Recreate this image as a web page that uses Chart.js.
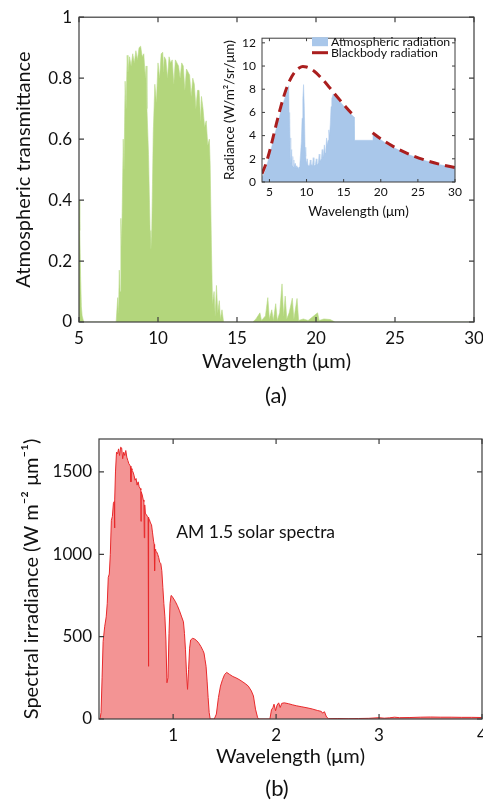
<!DOCTYPE html>
<html>
<head>
<meta charset="utf-8">
<title>Atmospheric window and AM 1.5 solar spectrum</title>
<script src="https://cdn.jsdelivr.net/npm/chart.js@4.4.1/dist/chart.umd.min.js"></script>
<style>
  html, body { margin:0; padding:0; background:#fff; overflow:hidden; }
  body { width:483px; height:806px; position:relative; font-family: Lato, 'Open Sans', sans-serif; }
  canvas { position:absolute; }
  #transChart { left:0; top:0; }
  #insetChart { left:222px; top:25px; }
  #solarChart { left:0; top:420px; }
  .panel-tag { position:absolute; width:60px; text-align:center; font-size:22px; line-height:26px; color:#111; }
</style>
</head>
<body>
<canvas id="transChart" width="500" height="382"></canvas>
<canvas id="insetChart" width="245" height="200"></canvas>
<div class="panel-tag" style="left:246px; top:382px;">(a)</div>
<canvas id="solarChart" width="500" height="355"></canvas>
<div class="panel-tag" style="left:247px; top:775px;">(b)</div>
<script>
// ---- (a) atmospheric transmittance, 5-30 um ----
const TRANS_WL = [
  5.0, 5.05, 5.1, 5.15, 5.2, 5.3, 7.35, 7.45, 7.5, 7.55, 7.6, 7.65, 7.7, 7.8, 7.85, 7.92, 7.98,
  8.05, 8.1, 8.2, 8.3, 8.4, 8.5, 8.6, 8.7, 8.8, 8.9, 9.0, 9.1, 9.2, 9.25, 9.3, 9.4, 9.45, 9.5,
  9.55, 9.6, 9.65, 9.7, 9.8, 9.9, 10.0, 10.1, 10.2, 10.3, 10.35, 10.4, 10.5, 10.6, 10.7, 10.8,
  10.9, 11.0, 11.1, 11.2, 11.3, 11.4, 11.5, 11.6, 11.7, 11.8, 11.9, 12.0, 12.1, 12.2, 12.3,
  12.4, 12.5, 12.6, 12.7, 12.75, 12.85, 12.95, 13.05, 13.15, 13.25, 13.3, 13.38, 13.45, 13.55,
  13.62, 13.7, 13.78, 13.88, 13.95, 14.05, 14.15, 16.0, 16.2, 16.45, 16.55, 16.8, 16.95, 17.05,
  17.2, 17.3, 17.45, 17.55, 17.7, 17.85, 17.95, 18.05, 18.15, 18.3, 18.5, 18.6, 18.8, 18.9,
  19.2, 19.5, 20.1, 20.2, 20.5, 20.9, 21.2, 30.0
];
const TRANS_VAL = [
  0.40, 0.30, 0.15, 0.05, 0.02, 0, 0, 0.08, 0.03, 0.17, 0.10, 0.34, 0.25, 0.60, 0.50, 0.79, 0.70,
  0.875, 0.82, 0.87, 0.84, 0.88, 0.85, 0.89, 0.86, 0.90, 0.905, 0.87, 0.88, 0.80, 0.84, 0.70, 0.55, 0.42, 0.30,
  0.24, 0.28, 0.45, 0.62, 0.78, 0.72, 0.85, 0.80, 0.88, 0.885, 0.82, 0.87, 0.86, 0.80, 0.87, 0.85,
  0.86, 0.78, 0.86, 0.85, 0.84, 0.80, 0.85, 0.84, 0.76, 0.83, 0.82, 0.81, 0.74, 0.80, 0.78,
  0.70, 0.76, 0.76, 0.66, 0.74, 0.70, 0.64, 0.66, 0.58, 0.60, 0.52, 0.25, 0.06, 0.10,
  0.02, 0.12, 0.03, 0.07, 0.01, 0.04, 0, 0, 0.01, 0.03, 0.005, 0.02, 0.08, 0.01,
  0.04, 0.005, 0.06, 0.005, 0.03, 0.125, 0.02, 0.085, 0.01, 0.03, 0.078, 0.01, 0.077, 0.005,
  0.01, 0.005, 0.03, 0.005, 0.01, 0.008, 0, 0
];
const TRANS_X_TICKS = [5, 10, 15, 20, 25, 30];
const TRANS_Y_TICKS = [0, 0.2, 0.4, 0.6, 0.8, 1];

// ---- inset: atmospheric vs blackbody radiance ----
const RAD_WL = [
  4.0, 4.2, 4.4, 4.6, 4.8, 5.0, 5.3, 5.6, 6.0, 6.5, 7.0, 7.5, 7.6, 7.65, 7.7, 7.75, 7.8, 7.85, 7.9,
  8.0, 8.05, 8.15, 8.2, 8.3, 8.35, 8.45, 8.5, 8.6, 8.7, 8.8, 8.9, 9.0, 9.1, 9.2, 9.3, 9.4, 9.5,
  9.6, 9.7, 9.8, 9.9, 10.0, 10.1, 10.2, 10.3, 10.4, 10.5, 10.6, 10.7, 10.8, 10.9, 11.0, 11.1,
  11.2, 11.3, 11.4, 11.5, 11.6, 11.7, 11.8, 11.9, 12.0, 12.1, 12.2, 12.3, 12.4, 12.5, 12.6,
  12.7, 12.8, 12.9, 13.0, 13.1, 13.2, 13.3, 13.4, 13.5, 13.6, 14.0, 14.5, 15.0, 15.5, 16.0,
  16.4, 16.45, 18.9, 18.95, 19.5, 20, 21, 22, 23, 24, 25, 26, 27, 28, 29, 30
];
const RAD_VAL = [
  0.45, 0.6, 0.9, 1.3, 1.8, 2.3, 3.0, 3.8, 4.8, 6.0, 7.1, 8.0, 8.3, 6.0, 3.5, 5.5, 2.2, 3.8, 1.6,
  2.8, 1.4, 2.2, 1.3, 1.9, 1.25, 1.6, 1.2, 1.4, 1.2, 1.3, 1.15, 1.3, 1.6, 2.5, 3.5, 5.5, 7.2,
  8.4, 6.5, 3.0, 2.2, 1.6, 2.0, 1.4, 1.45, 1.4, 1.9, 1.4, 1.5, 1.4, 2.1, 1.5, 1.4,
  1.5, 2.0, 1.6, 1.5, 1.7, 2.4, 1.8, 1.9, 2.0, 2.8, 2.1, 2.4, 3.2, 2.5, 2.8,
  3.8, 3.2, 3.6, 4.5, 4.0, 5.0, 6.5, 7.2, 7.4, 7.6, 7.3, 6.95, 6.55, 6.2, 5.85,
  5.6, 3.6, 3.6, 4.15, 3.85, 3.65, 3.2, 2.88, 2.58, 2.3, 2.06, 1.84, 1.66, 1.49, 1.35, 1.22
];
// blackbody at ~300 K; the dashed curve is broken between 16.4 and 18.9 um
const BB_WL = [4, 4.5, 5, 5.5, 6, 6.5, 7, 7.5, 8, 8.5, 9, 9.5, 10, 11, 12, 13, 14, 15, 16, 16.4,
  17.5, 18.9, 19, 20, 22, 24, 26, 28, 30];
const BB_VAL = [0.72, 1.52, 2.60, 3.87, 5.18, 6.42, 7.51, 8.40, 9.08, 9.55, 9.83, 9.95, 9.92, 9.57,
  8.96, 8.22, 7.44, 6.69, 5.97, 5.71, null, 4.24, 4.19, 3.72, 2.95, 2.35, 1.88, 1.52, 1.24];
const INSET_X_TICKS = [5, 10, 15, 20, 25, 30];
const INSET_Y_TICKS = [0, 2, 4, 6, 8, 10, 12];

// ---- (b) AM 1.5 solar spectral irradiance ----
const SOLAR_WL = [
  0.28, 0.29, 0.30, 0.31, 0.32, 0.335, 0.35, 0.36, 0.37, 0.38, 0.39, 0.40,
  0.41, 0.42, 0.428, 0.431, 0.434, 0.44, 0.45, 0.46, 0.47, 0.48, 0.49, 0.50,
  0.51, 0.52, 0.53, 0.54, 0.55, 0.56, 0.57, 0.58, 0.585, 0.59, 0.595, 0.60,
  0.61, 0.62, 0.63, 0.64, 0.65, 0.66, 0.67, 0.68, 0.686, 0.688, 0.69, 0.70,
  0.71, 0.716, 0.72, 0.724, 0.73, 0.74, 0.75, 0.757, 0.760, 0.763, 0.77, 0.78,
  0.79, 0.80, 0.81, 0.816, 0.82, 0.824, 0.83, 0.84, 0.85, 0.86, 0.87, 0.88,
  0.89, 0.90, 0.91, 0.92, 0.93, 0.94, 0.95, 0.96, 0.97, 0.98, 0.99, 1.00,
  1.02, 1.04, 1.06, 1.08, 1.10, 1.11, 1.12, 1.13, 1.14, 1.15, 1.16, 1.17,
  1.19, 1.21, 1.23, 1.25, 1.27, 1.29, 1.30, 1.31, 1.32, 1.33, 1.34, 1.35,
  1.36, 1.40, 1.42, 1.44, 1.46, 1.48, 1.50, 1.52, 1.55, 1.58, 1.61, 1.64,
  1.67, 1.70, 1.73, 1.76, 1.78, 1.80, 1.82, 1.83, 1.94, 1.955, 1.97, 1.98,
  1.995, 2.01, 2.025, 2.04, 2.055, 2.08, 2.12, 2.16, 2.20, 2.25, 2.30, 2.35,
  2.40, 2.44, 2.45, 2.47, 2.49, 2.51, 2.6, 2.7, 2.8, 2.9, 3.0, 3.05,
  3.1, 3.15, 3.2, 3.3, 3.4, 3.5, 3.6, 3.7, 3.8, 3.9, 4.0
];
const SOLAR_VAL = [
  0, 0, 40, 250, 470, 560, 620, 700, 860, 880, 1000, 1206,
  1230, 1310, 1320, 1160, 1330, 1500, 1620, 1610, 1640, 1600, 1650, 1646,
  1580, 1620, 1600, 1630, 1590, 1570, 1550, 1540, 1535, 1440, 1520, 1510,
  1500, 1480, 1450, 1460, 1420, 1440, 1410, 1400, 1390, 1200, 1380, 1360,
  1330, 1320, 1100, 1300, 1250, 1240, 1230, 1225, 320, 1220, 1210, 1190,
  1180, 1130, 1080, 1060, 900, 1030, 1020, 1015, 1000, 980, 950, 945,
  900, 800, 700, 620, 480, 220, 250, 520, 700, 750, 745, 735,
  715, 690, 660, 625, 590, 520, 420, 280, 180, 300, 430, 480,
  490, 485, 475, 460, 440, 415, 400, 360, 320, 230, 130, 40,
  0, 0, 30, 130, 200, 240, 270, 283, 270, 258, 250, 240,
  228, 215, 200, 170, 140, 60, 10, 0, 0, 55, 70, 90,
  50, 85, 98, 70, 95, 98, 93, 86, 80, 74, 68, 61,
  52, 46, 36, 44, 12, 2, 3, 2, 3, 4, 8, 5,
  7, 11, 8, 9, 11, 12, 11, 11, 10, 10, 9
];
const SOLAR_X_TICKS = [1, 2, 3, 4];
const SOLAR_Y_TICKS = [0, 500, 1000, 1500];

const FONT = 'Lato, "Open Sans", sans-serif';
const INK = '#111';
Chart.defaults.font.family = FONT;
Chart.defaults.color = INK;

const pts = (xs, ys) => xs.map((x, i) => ({ x, y: ys[i] }));

// closed box with inward tick marks on all four sides
const boxTicks = {
  id: 'boxTicks',
  afterDatasetsDraw(chart, args, opts) {
    const { ctx, chartArea: a, scales: { x, y } } = chart;
    ctx.save();
    ctx.strokeStyle = opts.color;
    ctx.lineWidth = opts.width;
    ctx.beginPath();
    x.ticks.forEach(t => {
      const px = x.getPixelForValue(t.value);
      ctx.moveTo(px, a.bottom); ctx.lineTo(px, a.bottom - opts.len);
      ctx.moveTo(px, a.top); ctx.lineTo(px, a.top + opts.len);
    });
    y.ticks.forEach(t => {
      const py = y.getPixelForValue(t.value);
      ctx.moveTo(a.left, py); ctx.lineTo(a.left + opts.len, py);
      ctx.moveTo(a.right, py); ctx.lineTo(a.right - opts.len, py);
    });
    ctx.stroke();
    ctx.strokeRect(a.left, a.top, a.right - a.left, a.bottom - a.top);
    ctx.restore();
  }
};

// legend drawn inside the inset's plot box
const insetLegend = {
  id: 'insetLegend',
  afterDraw(chart, args, opts) {
    const { ctx } = chart;
    ctx.save();
    ctx.font = opts.font;
    ctx.textBaseline = 'middle';
    chart.data.datasets.forEach((ds, i) => {
      const yy = opts.y + i * opts.rowGap;
      if (ds.fill) {
        ctx.fillStyle = ds.backgroundColor;
        ctx.fillRect(opts.x, yy - 4.5, opts.swatch, 9);
      } else {
        ctx.strokeStyle = ds.borderColor;
        ctx.lineWidth = 3;
        ctx.beginPath();
        ctx.moveTo(opts.x, yy); ctx.lineTo(opts.x + opts.swatch, yy);
        ctx.stroke();
      }
      ctx.fillStyle = INK;
      ctx.fillText(ds.label, opts.x + opts.swatch + 3, yy);
    });
    ctx.restore();
  }
};

// free text placed at a data position
const textNote = {
  id: 'textNote',
  afterDatasetsDraw(chart, args, opts) {
    const { ctx, scales: { x, y } } = chart;
    ctx.save();
    ctx.font = opts.font;
    ctx.fillStyle = INK;
    ctx.textBaseline = 'middle';
    ctx.fillText(opts.text, x.getPixelForValue(opts.x), y.getPixelForValue(opts.y));
    ctx.restore();
  }
};

function linearAxis(o) {
  return {
    type: 'linear',
    min: o.min, max: o.max,
    afterBuildTicks: s => { s.ticks = o.ticks.map(v => ({ value: v })); },
    afterFit: s => { if (o.width) s.width = o.width; if (o.height) s.height = o.height; },
    grid: { display: false, drawTicks: false },
    border: { display: false },
    ticks: { font: { size: o.tickSize }, padding: o.tickPad, maxRotation: 0, callback: v => String(v) },
    title: { display: true, text: o.title, font: { size: o.titleSize }, padding: o.titlePad }
  };
}

const common = {
  responsive: false,
  animation: false,
  devicePixelRatio: 1,
  events: [],
  plugins: { legend: { display: false }, tooltip: { enabled: false } }
};

// (a) transmittance
new Chart(document.getElementById('transChart'), {
  type: 'line',
  data: {
    datasets: [{
      label: 'Atmospheric transmittance',
      data: pts(TRANS_WL, TRANS_VAL),
      borderColor: '#b9da86',
      borderWidth: 0.6,
      backgroundColor: '#b3d67c',
      fill: 'origin',
      pointRadius: 0,
      tension: 0
    }]
  },
  options: {
    ...common,
    layout: { padding: { left: 0, top: 15, right: 26, bottom: 0 }, autoPadding: false },
    scales: {
      x: linearAxis({ min: 5, max: 30, ticks: TRANS_X_TICKS, height: 60, tickSize: 17, tickPad: 6,
        title: 'Wavelength (μm)', titleSize: 20, titlePad: { top: 0, bottom: 8 } }),
      y: linearAxis({ min: 0, max: 1, ticks: TRANS_Y_TICKS, width: 79, tickSize: 17, tickPad: 7,
        title: 'Atmospheric transmittance', titleSize: 20, titlePad: { top: 12, bottom: 0 } })
    },
    plugins: { ...common.plugins, boxTicks: { len: 5, color: '#3c3c3c', width: 1.2 } }
  },
  plugins: [boxTicks]
});

// inset radiance
new Chart(document.getElementById('insetChart'), {
  type: 'line',
  data: {
    datasets: [{
      label: 'Atmospheric radiation',
      data: pts(RAD_WL, RAD_VAL),
      borderColor: '#a9c7ea',
      borderWidth: 0.5,
      backgroundColor: '#a9c7ea',
      fill: 'origin',
      pointRadius: 0,
      order: 2
    }, {
      label: 'Blackbody radiation',
      data: pts(BB_WL, BB_VAL),
      borderColor: '#aa1e1e',
      borderWidth: 3,
      borderDash: [10, 6],
      fill: false,
      pointRadius: 0,
      cubicInterpolationMode: 'monotone',
      spanGaps: false,
      order: 1
    }]
  },
  options: {
    ...common,
    layout: { padding: { left: 0, top: 7, right: 12, bottom: 0 }, autoPadding: false },
    scales: {
      x: linearAxis({ min: 4, max: 30, ticks: INSET_X_TICKS, height: 43, tickSize: 12, tickPad: 3,
        title: 'Wavelength (μm)', titleSize: 13.5, titlePad: { top: 0, bottom: 5 } }),
      y: linearAxis({ min: 0, max: 12.4, ticks: INSET_Y_TICKS, width: 40, tickSize: 12, tickPad: 6,
        title: 'Radiance (W/m²/sr/μm)', titleSize: 13.5, titlePad: { top: 0, bottom: 0 } })
    },
    plugins: {
      ...common.plugins,
      boxTicks: { len: 3, color: '#3c3c3c', width: 1 },
      insetLegend: { x: 90, y: 16.7, rowGap: 11, swatch: 16, font: '12.3px ' + FONT }
    }
  },
  plugins: [boxTicks, insetLegend]
});

// (b) solar spectrum
new Chart(document.getElementById('solarChart'), {
  type: 'line',
  data: {
    datasets: [{
      label: 'AM 1.5 solar spectra',
      data: pts(SOLAR_WL, SOLAR_VAL),
      borderColor: '#e8292b',
      borderWidth: 1,
      backgroundColor: '#f39494',
      fill: 'origin',
      pointRadius: 0,
      tension: 0
    }]
  },
  options: {
    ...common,
    layout: { padding: { left: 0, top: 19, right: 18, bottom: 0 }, autoPadding: false },
    scales: {
      x: linearAxis({ min: 0.28, max: 4, ticks: SOLAR_X_TICKS, height: 56, tickSize: 17, tickPad: 6,
        title: 'Wavelength (μm)', titleSize: 20, titlePad: { top: 0, bottom: 6 } }),
      y: linearAxis({ min: 0, max: 1700, ticks: SOLAR_Y_TICKS, width: 99, tickSize: 17, tickPad: 7,
        title: 'Spectral irradiance (W m⁻² μm⁻¹)', titleSize: 20, titlePad: { top: 20, bottom: 0 } })
    },
    plugins: {
      ...common.plugins,
      boxTicks: { len: 5, color: '#3c3c3c', width: 1.2 },
      textNote: { text: 'AM 1.5 solar spectra', x: 1.03, y: 1135, font: '17.5px ' + FONT }
    }
  },
  plugins: [boxTicks, textNote]
});
</script>
</body>
</html>
